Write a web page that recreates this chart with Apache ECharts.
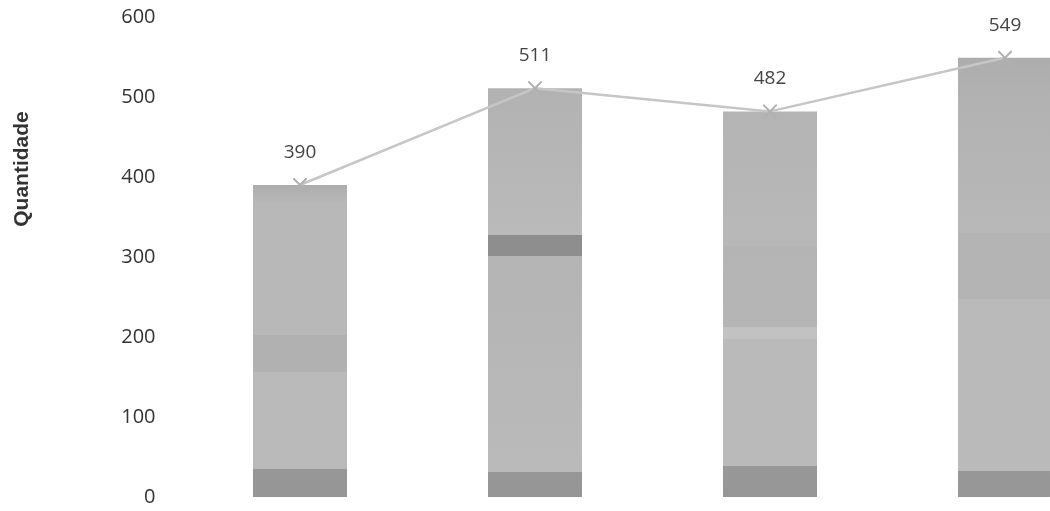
<!DOCTYPE html>
<html>
<head>
<meta charset="utf-8">
<script src="https://cdn.jsdelivr.net/npm/echarts@6/dist/echarts.min.js"></script>
<style>
html,body{margin:0;padding:0;background:#fff;}
#chart{width:1050px;height:511px;}
</style>
</head>
<body>
<div id="chart"></div>
<script>
// Data
const categories = ['A', 'B', 'C', 'D'];
const values = [390, 511, 482, 549];
const yTicks = [0, 100, 200, 300, 400, 500, 600];
const yAxisTitle = 'Quantidade';

// Bar band styling (visual texture only)
const bandStops = [
  [[0,'#adadad'],[0.06,'#b8b8b8'],[0.48,'#b8b8b8'],[0.48,'#b1b1b1'],[0.6,'#b1b1b1'],[0.6,'#bababa'],[0.91,'#bababa'],[0.91,'#979797'],[1,'#959595']],
  [[0,'#b2b2b2'],[0.36,'#bababa'],[0.36,'#8e8e8e'],[0.41,'#8e8e8e'],[0.41,'#b4b4b4'],[0.94,'#bababa'],[0.94,'#979797'],[1,'#959595']],
  [[0,'#b4b4b4'],[0.35,'#b8b8b8'],[0.35,'#b4b4b4'],[0.56,'#b5b5b5'],[0.56,'#c2c2c2'],[0.59,'#c2c2c2'],[0.59,'#bababa'],[0.92,'#bababa'],[0.92,'#989898'],[1,'#969696']],
  [[0,'#adadad'],[0.1,'#b2b2b2'],[0.4,'#b8b8b8'],[0.4,'#b4b4b4'],[0.55,'#b4b4b4'],[0.55,'#bababa'],[0.94,'#bababa'],[0.94,'#989898'],[1,'#969696']]
];

const chart = echarts.init(document.getElementById('chart'));

const barData = values.map((v, i) => ({
  value: v,
  itemStyle: {
    color: new echarts.graphic.LinearGradient(0, 0, 0, 1,
      bandStops[i].map(s => ({offset: s[0], color: s[1]})))
  }
}));

chart.setOption({
  animation: false,
  backgroundColor: '#ffffff',
  grid: { left: 182.5, top: 17, bottom: 14, right: -72.5, containLabel: false, outerBoundsMode: 'none' },
  xAxis: {
    type: 'category',
    data: categories,
    axisLine: { show: false },
    axisTick: { show: false },
    axisLabel: { show: false },
    splitLine: { show: false }
  },
  yAxis: {
    type: 'value',
    min: yTicks[0],
    max: yTicks[yTicks.length - 1],
    interval: 100,
    axisLine: { show: false },
    axisTick: { show: false },
    splitLine: { show: false },
    axisLabel: {
      margin: 27,
      color: '#333333',
      fontSize: 20,
      fontFamily: 'Open Sans'
    }
  },
  graphic: [{
    type: 'text',
    x: 22,
    y: 169,
    rotation: Math.PI / 2,
    style: {
      text: yAxisTitle,
      fontSize: 21,
      fontWeight: 'bold',
      fontFamily: 'Liberation Sans',
      fill: '#333333',
      align: 'center',
      verticalAlign: 'middle'
    }
  }],
  series: [
    {
      type: 'bar',
      data: barData,
      barWidth: 94,
      silent: true
    },
    {
      type: 'line',
      data: values,
      symbol: 'path://M0,0L1,0L5,4L9,0L10,0L10,1L6,5L10,9L10,10L9,10L5,6L1,10L0,10L0,9L4,5L0,1Z',
      symbolSize: 14,
      itemStyle: { color: '#b0b0b0' },
      lineStyle: { color: '#c6c6c6', width: 2.5 },
      label: {
        show: true,
        position: 'top',
        distance: 16,
        color: '#444444',
        fontSize: 19,
        fontFamily: 'Open Sans'
      },
      z: 3
    }
  ]
});
</script>
</body>
</html>
